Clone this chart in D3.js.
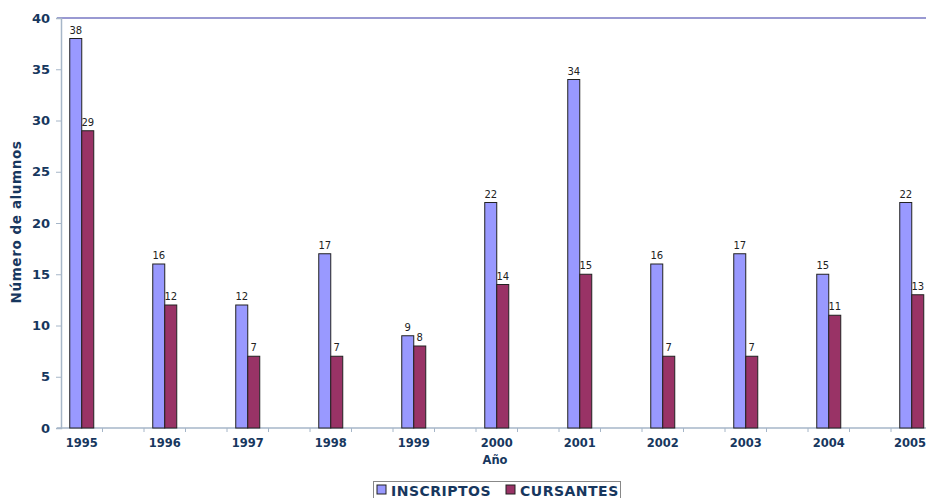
<!DOCTYPE html>
<html>
<head>
<meta charset="utf-8">
<style>
  body { margin: 0; background: #fff; }
  text { font-family: "DejaVu Sans", Verdana, sans-serif; }
</style>
<title>Número de alumnos por año</title>
</head>
<body>
<script src="https://cdnjs.cloudflare.com/ajax/libs/d3/7.8.5/d3.min.js"></script>
<script>
  // data
  var years = ["1995","1996","1997","1998","1999","2000","2001","2002","2003","2004","2005"];
  var inscriptos = [38,16,12,17,9,22,34,16,17,15,22];
  var cursantes  = [29,12,7,7,8,14,15,7,7,11,13];
  var seriesNames = ["INSCRIPTOS","CURSANTES"];
  var seriesColors = ["#9999FF","#993366"];
  var yTicks = [0,5,10,15,20,25,30,35,40];

  var width = 926, height = 498;
  var plotLeft = 61, plotTop = 18, plotBottom = 428;
  var slotW = 41.5;
  var navy = "#17375E";
  var axisCol = "#A6B6C8";

  var svg = d3.select("body").append("svg").attr("width", width).attr("height", height);

  // every year gets a slot followed by an empty slot
  var slots = d3.scaleBand().domain(d3.range(years.length * 2)).range([plotLeft, plotLeft + years.length * 2 * slotW]).padding(0);
  var inner = d3.scaleBand().domain(seriesNames).range([0, 24]).padding(0);
  var y = d3.scaleLinear().domain([0, 40]).range([plotBottom, plotTop]);

  // top gridline
  svg.append("line").attr("x1", 57).attr("x2", width).attr("y1", y(40)).attr("y2", y(40))
    .attr("stroke", "#3535A5").attr("stroke-width", 1.2);

  // y axis
  var yAxis = d3.axisLeft(y).tickValues(yTicks).tickSize(5).tickPadding(6);
  var gy = svg.append("g").attr("transform", "translate(" + plotLeft + ",0)").call(yAxis);
  gy.select(".domain").attr("stroke", axisCol).attr("stroke-width", 1.5);
  gy.selectAll(".tick line").attr("stroke", axisCol);
  gy.selectAll(".tick text").attr("font-size", 13).attr("font-weight", "bold").attr("fill", navy)
    .attr("font-family", "DejaVu Sans, Verdana, sans-serif");

  // x axis (category boundaries as ticks)
  svg.append("line").attr("x1", 57).attr("x2", width).attr("y1", plotBottom).attr("y2", plotBottom)
    .attr("stroke", axisCol).attr("stroke-width", 1.5);
  svg.selectAll(".xtick").data(d3.range(1, years.length * 2)).enter().append("line")
    .attr("class", "xtick")
    .attr("x1", function(d) { return slots(d); }).attr("x2", function(d) { return slots(d); })
    .attr("y1", plotBottom).attr("y2", plotBottom + 4)
    .attr("stroke", axisCol);
  svg.selectAll(".xlab").data(years).enter().append("text")
    .attr("class", "xlab")
    .attr("x", function(d, i) { return Math.min(slots(i * 2) + slotW / 2, 910); })
    .attr("y", 447)
    .attr("text-anchor", "middle").attr("font-size", 11.5).attr("font-weight", "bold").attr("fill", navy)
    .text(function(d) { return d; });

  // bars
  var rows = years.map(function(yr, i) { return { i: i, vals: [inscriptos[i], cursantes[i]] }; });
  var groups = svg.selectAll(".grp").data(rows).enter().append("g")
    .attr("transform", function(d) { return "translate(" + (slots(d.i * 2) + slotW / 2 - 12) + ",0)"; });
  groups.selectAll("rect").data(function(d) { return d.vals.map(function(v, k) { return { k: k, v: v }; }); })
    .enter().append("rect")
    .attr("x", function(d) { return inner(seriesNames[d.k]); })
    .attr("y", function(d) { return y(d.v); })
    .attr("width", inner.bandwidth())
    .attr("height", function(d) { return plotBottom - y(d.v); })
    .attr("fill", function(d) { return seriesColors[d.k]; })
    .attr("stroke", "#222").attr("stroke-width", 1);
  groups.selectAll(".val").data(function(d) { return d.vals.map(function(v, k) { return { k: k, v: v }; }); })
    .enter().append("text")
    .attr("x", function(d) { return inner(seriesNames[d.k]) + inner.bandwidth() / 2; })
    .attr("y", function(d) { return y(d.v) - 5; })
    .attr("text-anchor", "middle").attr("font-size", 10).attr("fill", "#222")
    .attr("font-family", "Liberation Sans, Arial, sans-serif")
    .text(function(d) { return d.v; });

  // titles
  svg.append("text").attr("x", 495).attr("y", 464).attr("text-anchor", "middle")
    .attr("font-size", 11.5).attr("font-weight", "bold").attr("fill", navy).text("Año");
  svg.append("text").attr("transform", "translate(21,222) rotate(-90)").attr("text-anchor", "middle")
    .attr("font-size", 13.5).attr("font-weight", "bold").attr("letter-spacing", 0.6).attr("fill", navy)
    .text("Número de alumnos");

  // legend
  var lg = svg.append("g").attr("transform", "translate(373,481)");
  lg.append("rect").attr("x", 0.5).attr("y", 0.5).attr("width", 247).attr("height", 24)
    .attr("fill", "#fff").attr("stroke", "#888");
  var lx = [4, 133];
  seriesNames.forEach(function(name, k) {
    lg.append("rect").attr("x", lx[k]).attr("y", 4).attr("width", 9).attr("height", 9)
      .attr("fill", seriesColors[k]).attr("stroke", "#222");
    lg.append("text").attr("x", lx[k] + 14).attr("y", 14.5).attr("font-size", 14).attr("font-weight", "bold")
      .attr("letter-spacing", 0.5).attr("fill", navy).text(name);
  });
</script>
</body>
</html>
